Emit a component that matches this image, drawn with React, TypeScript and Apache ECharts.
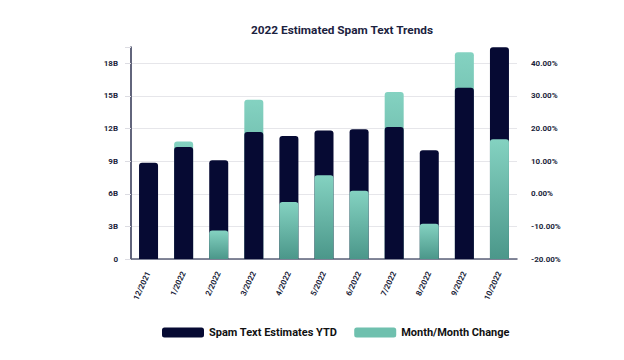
import React, { useEffect, useRef } from "react";
import * as echarts from "echarts";

const months = ["12/2021", "1/2022", "2/2022", "3/2022", "4/2022", "5/2022", "6/2022", "7/2022", "8/2022", "9/2022", "10/2022"];
const spamYTD = [8.85, 10.3, 9.08, 11.68, 11.31, 11.83, 11.93, 12.14, 10.0, 15.75, 19.48];
const momChange: (number | null)[] = [null, 16.0, -11.3, 28.8, -2.5, 5.7, 0.9, 31.2, -9.2, 43.4, 16.7];
const leftTicks = [0, 3, 6, 9, 12, 15, 18];
const rightTicks = [-20, -10, 0, 10, 20, 30, 40];

const LEFT_MAX = 19.5;
const RIGHT_MIN = -20;
const RIGHT_MAX = 45;

const NAVY = "#060a33";
const TEAL_TOP = "#84d2c1";
const TEAL_BOTTOM = "#4b978a";
const TEXT = "#1b1f3b";

export default function App() {
  const ref = useRef<HTMLDivElement>(null);
  useEffect(() => {
    if (!ref.current) return;
    const chart = echarts.init(ref.current, null, { renderer: "svg" });
    // the shorter bar of each month is drawn in front
    const tealBack = momChange.map((t, i) => {
      if (t === null) return "-";
      const tf = (t - RIGHT_MIN) / (RIGHT_MAX - RIGHT_MIN);
      const nf = spamYTD[i] / LEFT_MAX;
      return tf > nf ? t : "-";
    });
    const tealFront = momChange.map((t, i) => {
      if (t === null) return "-";
      const tf = (t - RIGHT_MIN) / (RIGHT_MAX - RIGHT_MIN);
      const nf = spamYTD[i] / LEFT_MAX;
      return tf <= nf ? t : "-";
    });
    const tealGrad = new echarts.graphic.LinearGradient(0, 0, 0, 1, [
      { offset: 0, color: TEAL_TOP },
      { offset: 1, color: TEAL_BOTTOM },
    ]);
    const labelStyle = { fontFamily: "Roboto", fontSize: 8, fontWeight: "bold" as const, color: TEXT };
    chart.setOption({
      animation: false,
      graphic: [
        {
          type: "text",
          x: 342,
          y: 30,
          style: {
            text: "2022 Estimated Spam Text Trends",
            fontFamily: "Roboto",
            fontWeight: "bold",
            fontSize: 11.8,
            fill: "#1c2240",
            textAlign: "center",
            textVerticalAlign: "middle",
          },
        },
      ],
      legend: {
        left: 157,
        top: 322,
        itemWidth: 42,
        itemHeight: 10,
        itemGap: 17,
        icon: "roundRect",
        textStyle: { fontFamily: "Roboto", fontSize: 11, fontWeight: "bold", color: "#111" },
        data: [
          { name: "Spam Text Estimates YTD", itemStyle: { color: NAVY } },
          { name: "Month/Month Change", itemStyle: { color: "#6fc0ae" } },
        ],
      },
      grid: { left: 131, right: 107, top: 47, bottom: 101, containLabel: false },
      xAxis: {
        type: "category",
        data: months,
        axisLine: { show: true, lineStyle: { color: "#5b6078", width: 1.5 } },
        axisTick: { show: false },
        axisLabel: { ...labelStyle, rotate: 65, interval: 0, margin: 13 },
      },
      yAxis: [
        {
          type: "value",
          min: 0,
          max: LEFT_MAX,
          interval: 3,
          axisLine: { show: true, lineStyle: { color: "#2e3250", width: 1.5 } },
          axisTick: { show: true, length: 6, lineStyle: { color: "#dcdce2" } },
          splitLine: { show: true, showMaxLine: false, lineStyle: { color: "#e6e6ea" } },
          axisLabel: {
            ...labelStyle,
            margin: 13,
            formatter: (v: number) => (leftTicks.includes(v) ? (v === 0 ? "0" : v + "B") : ""),
          },
        },
        {
          type: "value",
          position: "right",
          min: RIGHT_MIN,
          max: RIGHT_MAX,
          interval: 10,
          startValue: RIGHT_MIN,
          axisLine: { show: false },
          axisTick: { show: false },
          splitLine: { show: false },
          axisLabel: {
            ...labelStyle,
            margin: 14,
            formatter: (v: number) => (rightTicks.includes(v) ? v.toFixed(2) + "%" : ""),
          },
        },
      ],
      series: [
        {
          name: "Month/Month Change",
          type: "bar",
          yAxisIndex: 1,
          data: tealBack,
          barWidth: 19,
          barGap: "-100%",
          z: 1,
          itemStyle: { color: tealGrad, borderRadius: [3, 3, 0, 0] },
        },
        {
          name: "Spam Text Estimates YTD",
          type: "bar",
          yAxisIndex: 0,
          data: spamYTD,
          barWidth: 19,
          barGap: "-100%",
          z: 2,
          itemStyle: { color: NAVY, borderRadius: [3, 3, 0, 0] },
        },
        {
          name: "Month/Month Change",
          type: "bar",
          yAxisIndex: 1,
          data: tealFront,
          barWidth: 19,
          barGap: "-100%",
          z: 3,
          itemStyle: { color: tealGrad, borderRadius: [3, 3, 0, 0] },
        },
      ],
    });
    return () => chart.dispose();
  }, []);
  return <div ref={ref} style={{ width: 624, height: 360, margin: -8, background: "#fff" }} />;
}
